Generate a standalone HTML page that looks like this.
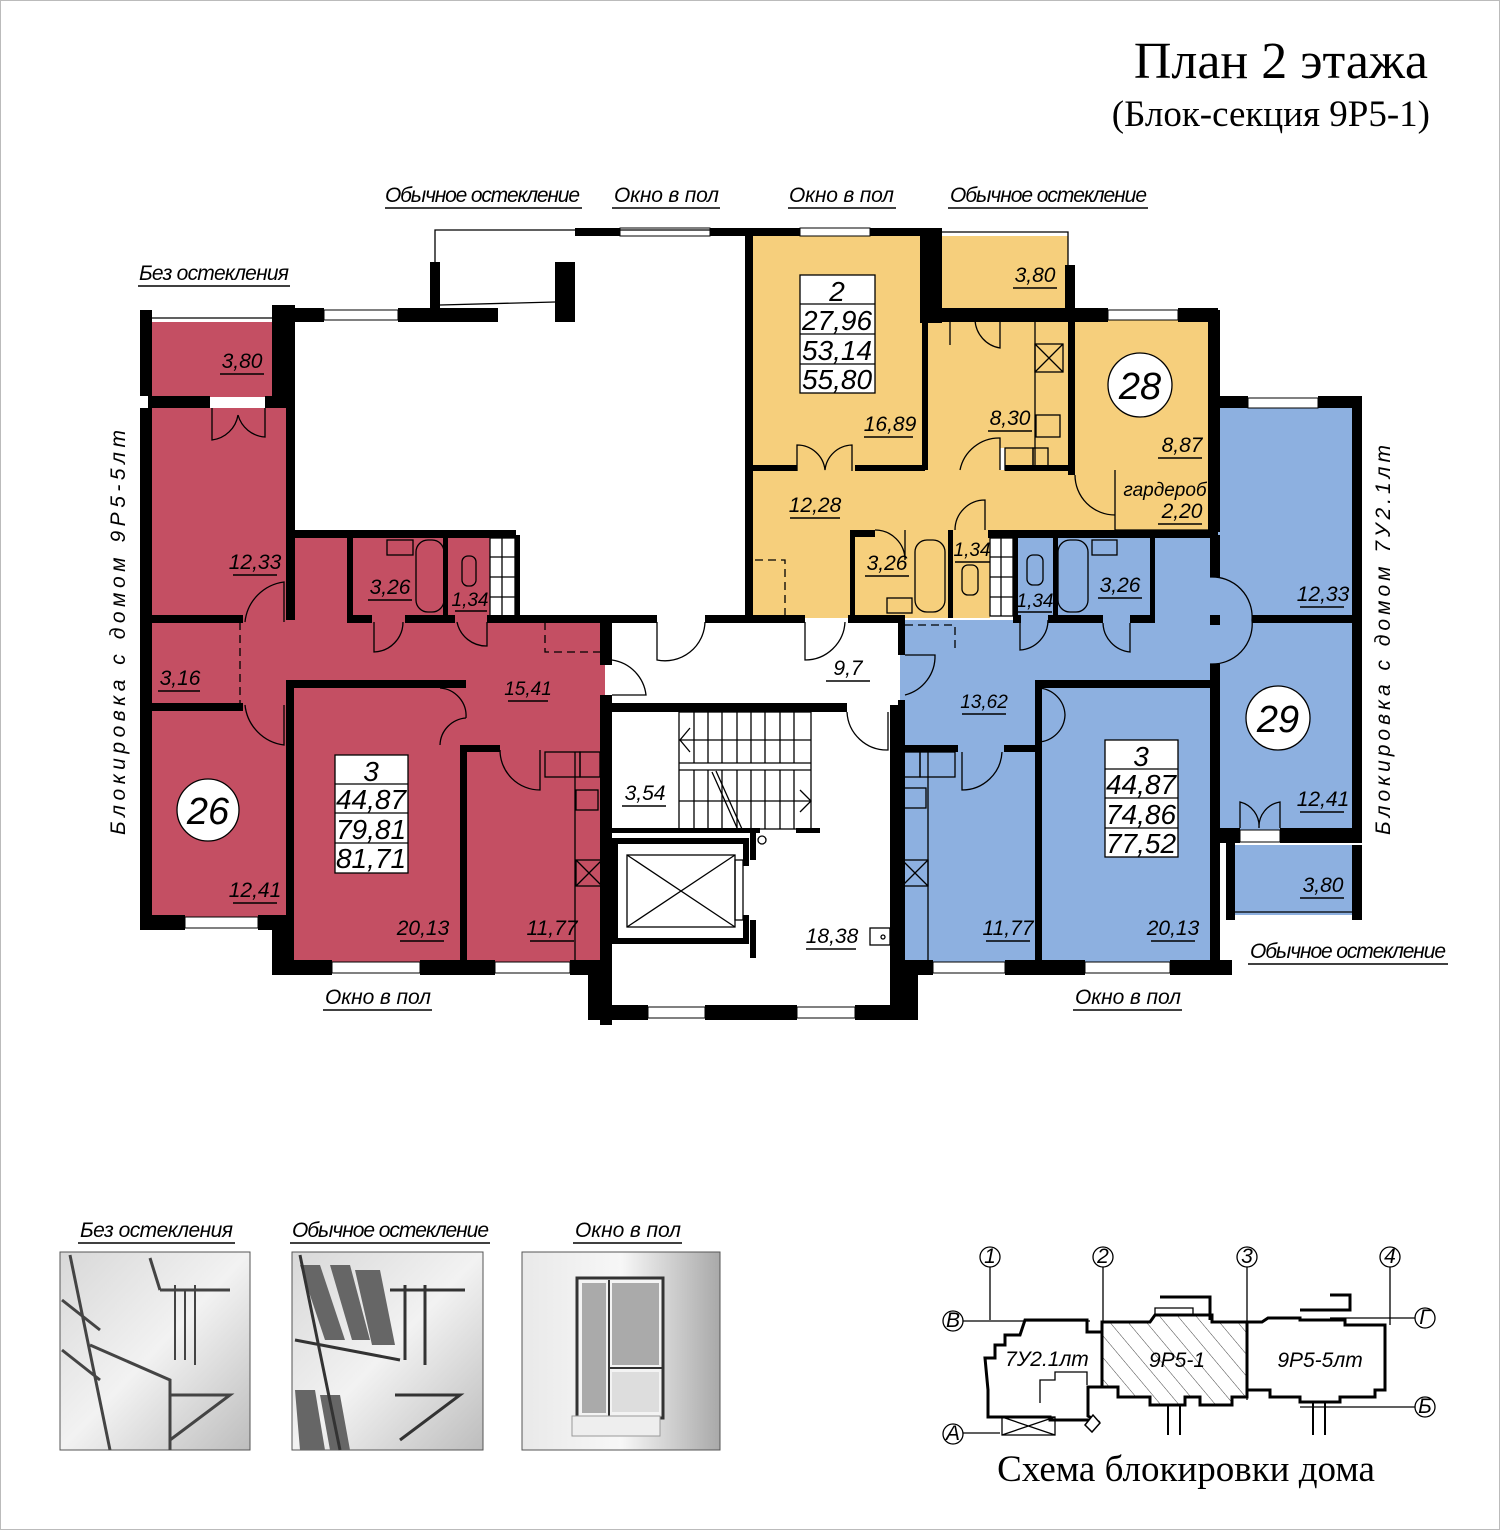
<!DOCTYPE html>
<html><head><meta charset="utf-8"><style>
html,body{margin:0;padding:0;background:#fff}
svg{display:block}
.t{font-family:"Liberation Sans",sans-serif;font-style:italic;font-size:21px;fill:#000}
.s{font-family:"Liberation Serif",serif;fill:#000}
.b{font-family:"Liberation Sans",sans-serif;font-style:italic;font-size:28px;fill:#000}
.ln{stroke:#000;stroke-width:1.5}
.th{fill:none;stroke:#000;stroke-width:1.3}
</style></head><body>
<svg width="1500" height="1530" viewBox="0 0 1500 1530" xmlns="http://www.w3.org/2000/svg">
<rect x="0.5" y="0.5" width="1499" height="1529" fill="#fff" stroke="#bbb"/>
<text class="s" x="1428" y="78" font-size="52" text-anchor="end">План 2 этажа</text>
<text class="s" x="1430" y="126" font-size="37" text-anchor="end">(Блок-секция 9Р5-1)</text>

<!-- fills -->
<g fill="#c44f63">
<rect x="150" y="322" width="124" height="75"/>
<rect x="150" y="408" width="140" height="520"/>
<rect x="240" y="535" width="275" height="150"/>
<rect x="240" y="620" width="365" height="65"/>
<rect x="290" y="685" width="315" height="278"/>
</g>
<g fill="#f6cf7c">
<rect x="752" y="235" width="170" height="235"/>
<rect x="940" y="236" width="128" height="76"/>
<rect x="926" y="320" width="284" height="152"/>
<rect x="1070" y="320" width="140" height="210"/>
<rect x="752" y="468" width="460" height="150"/>
</g>
<g fill="#8db0e0">
<rect x="1218" y="408" width="136" height="422"/>
<rect x="1233" y="845" width="120" height="70"/>
<rect x="1013" y="535" width="205" height="90"/>
<rect x="900" y="620" width="318" height="65"/>
<rect x="900" y="685" width="315" height="278"/>
</g>
<!-- white overlays inside -->
<g fill="#fff">
<rect x="490" y="538" width="25" height="80"/>
<rect x="990" y="538" width="25" height="80"/>
<rect x="1000" y="448" width="5" height="22"/>
</g>

<!-- walls -->
<g fill="#000">
<rect x="140" y="310" width="12" height="86"/>
<rect x="140" y="408" width="12" height="522"/>
<rect x="148" y="396" width="62" height="12"/>
<rect x="265" y="396" width="28" height="12"/>
<rect x="272" y="305" width="22" height="96"/>
<rect x="286" y="305" width="9" height="315"/>
<rect x="294" y="308" width="30" height="14"/>
<rect x="398" y="308" width="100" height="14"/>
<rect x="286" y="530" width="230" height="8"/>
<rect x="148" y="615" width="95" height="8"/>
<rect x="148" y="703" width="95" height="8"/>
<rect x="140" y="915" width="45" height="15"/>
<rect x="258" y="915" width="35" height="15"/>
<rect x="272" y="915" width="20" height="60"/>
<rect x="272" y="960" width="60" height="15"/>
<rect x="420" y="960" width="75" height="15"/>
<rect x="570" y="960" width="42" height="15"/>
<rect x="286" y="680" width="8" height="285"/>
<rect x="286" y="680" width="180" height="8"/>
<rect x="460" y="745" width="7" height="220"/>
<rect x="460" y="745" width="40" height="7"/>
<rect x="347" y="535" width="6" height="85"/>
<rect x="347" y="615" width="25" height="8"/>
<rect x="405" y="615" width="50" height="8"/>
<rect x="487" y="615" width="118" height="8"/>
<rect x="443" y="535" width="5" height="85"/>
<rect x="515" y="535" width="5" height="85"/>
<rect x="430" y="262" width="10" height="46"/>
<rect x="555" y="262" width="20" height="60"/>
<rect x="575" y="228" width="45" height="8"/>
<rect x="710" y="228" width="232" height="8"/>
<rect x="745" y="228" width="8" height="388"/>
<rect x="600" y="615" width="12" height="50"/>
<rect x="600" y="695" width="12" height="330"/>
<rect x="612" y="615" width="45" height="8"/>
<rect x="705" y="615" width="100" height="8"/>
<rect x="848" y="615" width="55" height="8"/>
<rect x="612" y="703" width="235" height="9"/>
<rect x="588" y="960" width="24" height="60"/>
<rect x="588" y="1005" width="60" height="15"/>
<rect x="705" y="1005" width="92" height="15"/>
<rect x="855" y="1005" width="60" height="15"/>
<rect x="890" y="705" width="12" height="315"/>
<rect x="898" y="960" width="20" height="60"/>
<rect x="612" y="838" width="137" height="6"/>
<rect x="612" y="938" width="137" height="6"/>
<rect x="612" y="838" width="6" height="106"/>
<rect x="743" y="838" width="6" height="28"/>
<rect x="743" y="915" width="6" height="28"/>
<rect x="750" y="830" width="6" height="30"/>
<rect x="750" y="920" width="6" height="38"/>
<rect x="612" y="828" width="148" height="5"/>
<rect x="796" y="828" width="24" height="5"/>
<rect x="920" y="228" width="22" height="95"/>
<rect x="1065" y="265" width="10" height="57"/>
<rect x="928" y="308" width="180" height="14"/>
<rect x="1178" y="308" width="40" height="14"/>
<rect x="922" y="320" width="6" height="150"/>
<rect x="752" y="465" width="45" height="6"/>
<rect x="855" y="465" width="70" height="6"/>
<rect x="1068" y="320" width="7" height="155"/>
<rect x="1005" y="465" width="70" height="6"/>
<rect x="1208" y="310" width="12" height="222"/>
<rect x="850" y="530" width="25" height="7"/>
<rect x="850" y="530" width="5" height="88"/>
<rect x="948" y="530" width="5" height="88"/>
<rect x="988" y="530" width="230" height="8"/>
<rect x="1208" y="396" width="40" height="12"/>
<rect x="1318" y="396" width="44" height="12"/>
<rect x="1352" y="400" width="10" height="440"/>
<rect x="1352" y="845" width="10" height="75"/>
<rect x="1210" y="535" width="10" height="42"/>
<rect x="1210" y="615" width="10" height="10"/>
<rect x="1252" y="615" width="103" height="8"/>
<rect x="1210" y="664" width="10" height="311"/>
<rect x="1215" y="828" width="25" height="15"/>
<rect x="1280" y="828" width="82" height="15"/>
<rect x="1226" y="840" width="9" height="80"/>
<rect x="898" y="615" width="7" height="40"/>
<rect x="898" y="700" width="7" height="275"/>
<rect x="898" y="960" width="35" height="15"/>
<rect x="1005" y="960" width="80" height="15"/>
<rect x="1170" y="960" width="62" height="15"/>
<rect x="1035" y="680" width="180" height="8"/>
<rect x="1035" y="680" width="7" height="285"/>
<rect x="898" y="745" width="60" height="7"/>
<rect x="1004" y="745" width="36" height="7"/>
<rect x="1013" y="535" width="5" height="85"/>
<rect x="1053" y="535" width="5" height="85"/>
<rect x="1013" y="615" width="8" height="8"/>
<rect x="1048" y="615" width="55" height="8"/>
<rect x="1130" y="615" width="25" height="8"/>
<rect x="1150" y="535" width="5" height="85"/>
</g>

<g fill="#fff" stroke="#000" stroke-width="1">
<rect x="324" y="310" width="74" height="10"/>
<rect x="620" y="228" width="90" height="8"/>
<rect x="800" y="228" width="70" height="8"/>
<rect x="1108" y="310" width="70" height="10"/>
<rect x="1248" y="398" width="70" height="10"/>
<rect x="185" y="917" width="73" height="11"/>
<rect x="332" y="962" width="88" height="11"/>
<rect x="495" y="962" width="75" height="11"/>
<rect x="648" y="1007" width="57" height="11"/>
<rect x="797" y="1007" width="58" height="11"/>
<rect x="933" y="962" width="72" height="11"/>
<rect x="1085" y="962" width="85" height="11"/>
<rect x="1240" y="830" width="40" height="12"/>
</g>
<g class="th">
<path d="M152 318 H272"/>
<path d="M435 262 V230 H748"/>
<path d="M440 305 L555 302"/>
<path d="M942 232 H1068 V265"/>
<path d="M1235 912 H1352"/>
<path d="M290 322 V530"/>
</g>

<g class="th">
<path d="M212 408 V440 A30 30 0 0 0 238 415"/><path d="M265 408 V437 A30 30 0 0 1 238 415"/>
<path d="M245 622 A45 45 0 0 1 284 582 V622"/>
<path d="M245 705 A45 45 0 0 0 284 745 V705"/>
<path d="M374 622 V652 A30 30 0 0 0 403 622"/>
<path d="M487 622 V646 A30 30 0 0 1 457 622"/>
<path d="M440 688 A28 28 0 0 1 466 718 M466 718 A28 28 0 0 0 440 745"/>
<path d="M500 750 A40 40 0 0 0 540 790 V750"/>
<path d="M240 622 V705" stroke-dasharray="8 5"/>
<path d="M545 622 V652 H600" stroke-dasharray="8 5"/>
<path d="M657 622 V660 A40 40 0 0 0 705 622"/>
<path d="M805 622 V660 A40 40 0 0 0 845 622"/>
<path d="M612 660 A40 40 0 0 1 646 695 H612"/>
<path d="M847 712 A40 40 0 0 0 888 750 V712"/>
<path d="M797 471 V445 A28 28 0 0 1 825 470 A28 28 0 0 1 852 445 V471"/>
<path d="M960 470 A40 40 0 0 1 1000 438 V470"/>
<path d="M950 320 V345 M1000 320 V348 A30 30 0 0 1 975 320"/>
<path d="M1075 475 A40 40 0 0 0 1115 515"/>
<path d="M875 530 A30 30 0 0 1 905 560 V530"/>
<path d="M955 530 A30 30 0 0 1 985 500 V530"/>
<path d="M755 560 H785 V615" stroke-dasharray="8 5"/>
<path d="M1115 470 V530 H1210 V470"/>
<path d="M905 655 H935 A40 40 0 0 1 905 695"/>
<path d="M905 625 H955 V650" stroke-dasharray="8 5"/>
<path d="M1020 623 V650 A30 30 0 0 0 1048 620"/>
<path d="M1103 623 A30 30 0 0 0 1130 652 V623"/>
<path d="M1210 577 A40 40 0 0 1 1252 620 A40 40 0 0 1 1210 664"/>
<path d="M1038 688 A28 28 0 0 1 1065 715 A28 28 0 0 1 1038 742"/>
<path d="M962 752 V790 A40 40 0 0 0 1002 752"/>
<path d="M1240 828 V802 A25 25 0 0 1 1259 828 A25 25 0 0 1 1280 802 V828"/>
</g>

<g class="th">
<rect x="679" y="712" width="132" height="117"/>
<path d="M679 763 H811 M679 770 H811 M679 740 H811 M679 801 H811"/>
<path d="M694 712V763 M708 712V763 M722 712V763 M737 712V763 M751 712V763 M765 712V763 M780 712V763 M794 712V763"/>
<path d="M694 770V829 M708 770V829 M722 770V829 M737 770V829 M751 770V829 M765 770V829 M780 770V829 M794 770V829"/>
<path d="M690 728 L680 740 L690 752 M800 790 L811 801 L800 812"/>
<path d="M712 772 L738 830 M716 771 L742 829"/>
<rect x="627" y="855" width="108" height="72"/>
<path d="M627 855 L735 927 M735 855 L627 927"/>
<rect x="735" y="860" width="8" height="60"/>
<circle cx="762" cy="840" r="4"/>
<rect x="870" y="928" width="20" height="17"/><circle cx="883" cy="937" r="2"/>
</g>

<g class="th" fill="#fff">
<rect x="416" y="540" width="28" height="72" rx="12" fill="none"/>
<rect x="387" y="540" width="26" height="15" fill="none"/>
<rect x="462" y="556" width="14" height="30" rx="6" fill="none"/>
<rect x="915" y="540" width="30" height="72" rx="12" fill="none"/>
<rect x="887" y="598" width="25" height="15" fill="none"/>
<rect x="962" y="565" width="16" height="30" rx="6" fill="none"/>
<rect x="1058" y="540" width="30" height="72" rx="12" fill="none"/>
<rect x="1092" y="540" width="25" height="15" fill="none"/>
<rect x="1027" y="555" width="16" height="30" rx="6" fill="none"/>
<rect x="1035" y="344" width="28" height="28"/>
<path d="M1035 344 L1063 372 M1063 344 L1035 372" />
<rect x="1036" y="415" width="24" height="22" fill="none"/>
<rect x="1005" y="448" width="28" height="22"/><rect x="1033" y="448" width="15" height="22"/>
<rect x="545" y="752" width="35" height="25"/><rect x="580" y="752" width="20" height="25"/>
<rect x="576" y="790" width="22" height="20" fill="none"/>
<rect x="576" y="860" width="26" height="26"/><path d="M576 860 L602 886 M602 860 L576 886"/>
<rect x="920" y="752" width="35" height="25"/><rect x="903" y="752" width="17" height="25"/>
<rect x="904" y="788" width="22" height="20" fill="none"/>
<rect x="902" y="860" width="26" height="26"/><path d="M902 860 L928 886 M928 860 L902 886"/>
<rect x="490" y="538" width="25" height="78"/><path d="M490 557H515 M490 577H515 M490 597H515 M502 538V616"/>
<rect x="990" y="538" width="23" height="78"/><path d="M990 557H1013 M990 577H1013 M990 597H1013 M1001 538V616"/>
</g>
<path d="M1035 320 V470 M575 752 V960 M928 752 V960" class="th"/>

<g fill="#fff" stroke="#000" stroke-width="1.3">
<rect x="335" y="755" width="73" height="118"/><path d="M335 784H408 M335 813H408 M335 843H408"/>
<rect x="800" y="275" width="75" height="118"/><path d="M800 304H875 M800 334H875 M800 364H875"/>
<rect x="1105" y="740" width="73" height="117"/><path d="M1105 769H1178 M1105 798H1178 M1105 828H1178"/>
<circle cx="208" cy="810" r="31"/><circle cx="1140" cy="385" r="32"/><circle cx="1278" cy="718" r="32"/>
</g>
<g class="b" text-anchor="middle">
<text x="371" y="781">3</text><text x="371" y="809">44,87</text><text x="371" y="839">79,81</text><text x="371" y="868">81,71</text>
<text x="837" y="301">2</text><text x="837" y="330">27,96</text><text x="837" y="360">53,14</text><text x="837" y="389">55,80</text>
<text x="1141" y="766">3</text><text x="1141" y="794">44,87</text><text x="1141" y="824">74,86</text><text x="1141" y="853">77,52</text>
<text x="208" y="824" font-size="38">26</text><text x="1140" y="399" font-size="38">28</text><text x="1278" y="732" font-size="38">29</text>
</g>

<g class="t" text-anchor="middle">
<text x="242" y="368">3,80</text><text x="255" y="569">12,33</text><text x="390" y="594">3,26</text><text x="470" y="606" font-size="19">1,34</text>
<text x="180" y="685">3,16</text><text x="528" y="695" font-size="19">15,41</text><text x="255" y="897">12,41</text>
<text x="423" y="935">20,13</text><text x="552" y="935">11,77</text>
<text x="890" y="431">16,89</text><text x="1035" y="282">3,80</text><text x="1010" y="425">8,30</text><text x="1182" y="452">8,87</text>
<text x="1165" y="496" font-size="19">гардероб</text><text x="1182" y="518">2,20</text><text x="815" y="512">12,28</text>
<text x="887" y="570">3,26</text><text x="972" y="556" font-size="19">1,34</text>
<text x="848" y="675">9,7</text><text x="645" y="800">3,54</text><text x="832" y="943">18,38</text>
<text x="1035" y="607" font-size="19">1,34</text><text x="1120" y="592">3,26</text><text x="1323" y="601">12,33</text>
<text x="984" y="708" font-size="19">13,62</text><text x="1323" y="806">12,41</text><text x="1323" y="892">3,80</text>
<text x="1008" y="935">11,77</text><text x="1173" y="935">20,13</text>
</g>
<g class="ln">
<path d="M220 374H264 M233 575H277 M368 600H412 M455 611H487 M158 691H200 M508 701H548 M233 903H277 M400 941H444 M530 941H574"/>
<path d="M864 437H913 M1013 288H1057 M988 431H1032 M1158 458H1202 M1158 524H1202 M790 518H840 M865 576H909 M955 562H990"/>
<path d="M826 681H870 M622 806H666 M806 949H856 M1018 612H1052 M1098 598H1142 M1300 607H1344 M962 714H1006 M1300 812H1344 M1300 898H1344 M986 941H1030 M1151 941H1195"/>
</g>

<g class="t" font-size="20">
<text x="385" y="202" textLength="195">Обычное остекление</text>
<text x="614" y="202" textLength="105">Окно в пол</text>
<text x="789" y="202" textLength="105">Окно в пол</text>
<text x="950" y="202" textLength="197">Обычное остекление</text>
<text x="139" y="280" textLength="150">Без остекления</text>
<text x="1250" y="958" textLength="196">Обычное остекление</text>
<text x="325" y="1004" textLength="106">Окно в пол</text>
<text x="1075" y="1004" textLength="106">Окно в пол</text>
<text x="80" y="1237" textLength="153">Без остекления</text>
<text x="292" y="1237" textLength="197">Обычное остекление</text>
<text x="575" y="1237" textLength="106">Окно в пол</text>
</g>
<g class="ln">
<path d="M385 208H582 M612 208H720 M788 208H896 M948 208H1148 M138 286H290 M1248 964H1448 M323 1010H432 M1073 1010H1182 M78 1243H235 M290 1243H490 M573 1243H682"/>
</g>
<text class="t" font-size="24" transform="translate(125 835) rotate(-90)" textLength="405">Блокировка с домом 9Р5-5лт</text>
<text class="t" font-size="24" transform="translate(1390 835) rotate(-90)" textLength="390">Блокировка с домом 7У2.1лт</text>

<defs>
<linearGradient id="g1" x1="0" y1="0" x2="1" y2="1"><stop offset="0" stop-color="#d8d8d8"/><stop offset=".5" stop-color="#f2f2f2"/><stop offset="1" stop-color="#bdbdbd"/></linearGradient>
<linearGradient id="g2" x1="0" y1="0" x2="1" y2="0"><stop offset="0" stop-color="#e9e9e9"/><stop offset=".5" stop-color="#f7f7f7"/><stop offset="1" stop-color="#a9a9a9"/></linearGradient>
<pattern id="hat" width="14" height="14" patternUnits="userSpaceOnUse" patternTransform="rotate(-40)"><rect width="14" height="14" fill="#fff"/><path d="M0 0 V14" stroke="#444" stroke-width="1"/></pattern>
</defs>
<rect x="60" y="1252" width="190" height="198" fill="url(#g1)" stroke="#555"/>
<g stroke="#444" stroke-width="3" fill="none">
<path d="M70 1255 L110 1450 M62 1300 L100 1330 M62 1350 L100 1380 M90 1345 L170 1380 L170 1450 M170 1395 L230 1395 L170 1440 M160 1290 L230 1290 M150 1258 L160 1290"/>
<path d="M175 1285 V1360 M195 1285 V1365 M185 1290 V1360" stroke-width="2"/>
</g>
<rect x="292" y="1252" width="191" height="198" fill="url(#g1)" stroke="#555"/>
<g fill="#666"><path d="M300 1265 L320 1265 L345 1340 L325 1340Z M330 1265 L350 1265 L370 1340 L352 1340Z M355 1270 L380 1270 L395 1345 L372 1345Z M295 1390 L315 1390 L325 1450 L300 1450Z M320 1395 L340 1395 L350 1450 L330 1450Z"/></g>
<g stroke="#333" stroke-width="3" fill="none"><path d="M300 1255 L340 1450 M295 1340 L400 1360 M390 1290 L465 1290 M395 1395 L460 1395 L400 1440 M405 1285 V1360 M425 1285 V1365"/></g>
<rect x="522" y="1252" width="198" height="198" fill="url(#g2)" stroke="#555"/>
<rect x="577" y="1278" width="86" height="140" fill="#f3f3f3" stroke="#333" stroke-width="3"/>
<rect x="582" y="1283" width="24" height="130" fill="#aaa"/><rect x="612" y="1283" width="47" height="82" fill="#aaa"/><rect x="612" y="1372" width="47" height="40" fill="#ddd"/>
<path d="M609 1280 V1416 M610 1368 H662" stroke="#333" stroke-width="2"/>
<rect x="572" y="1416" width="88" height="20" fill="#eee" stroke="#999"/>

<g fill="none" stroke="#000" stroke-width="1.3">
<circle cx="990" cy="1257" r="10"/><circle cx="1103" cy="1257" r="10"/><circle cx="1247" cy="1257" r="10"/><circle cx="1390" cy="1257" r="10"/>
<circle cx="953" cy="1321" r="10"/><circle cx="1425" cy="1318" r="10"/><circle cx="1425" cy="1407" r="10"/><circle cx="953" cy="1434" r="10"/>
<path d="M990 1267 V1320 M1103 1267 V1325 M1247 1267 V1400 M1390 1267 V1325 M963 1321 H1090 M1330 1318 H1415 M1300 1407 H1415 M963 1433 H1000"/>
<rect x="1002" y="1417" width="53" height="18"/><path d="M1002 1417 L1055 1435 M1055 1417 L1002 1435"/>
<path d="M1040 1403 V1380 H1055 V1372 H1087 V1385"/>
<path d="M1155 1308 H1193 V1350 H1155Z"/>
</g>
<path d="M1102 1322 H1150 L1155 1315 H1212 V1322 H1247 V1397 H1232 V1405 H1200 V1397 H1185 V1405 H1150 V1397 H1118 V1387 H1102Z" fill="url(#hat)" stroke="#000" stroke-width="3"/>
<path d="M1025 1320 H1087 V1332 H1102 V1387 H1088 V1416 L1095 1420 H1050 V1417 H988 V1390 L985 1358 H995 V1345 H1005 V1335 H1020 Z" fill="none" stroke="#000" stroke-width="3"/>
<path d="M1247 1322 H1262 L1268 1318 H1300 V1320 H1345 V1325 H1385 V1390 H1375 V1397 H1340 V1402 H1300 V1397 H1270 V1390 H1247" fill="none" stroke="#000" stroke-width="3"/>
<path d="M1160 1297 H1210 V1320 M1300 1310 H1350 V1295 H1330" fill="none" stroke="#000" stroke-width="3"/>
<path d="M1168 1405 V1435 M1180 1405 V1435 M1313 1402 V1435 M1325 1402 V1435" stroke="#000" stroke-width="2"/>
<path d="M1085 1425 L1093 1415 L1100 1423 L1092 1432Z" fill="#fff" stroke="#000" stroke-width="1.5"/>
<g class="t" font-size="16" text-anchor="middle"><text x="1047" y="1366">7У2.1лт</text><text x="1177" y="1367">9Р5-1</text><text x="1320" y="1367">9Р5-5лт</text></g>
<g class="t" font-size="16" text-anchor="middle"><text x="990" y="1263">1</text><text x="1103" y="1263">2</text><text x="1247" y="1263">3</text><text x="1390" y="1263">4</text><text x="953" y="1327">В</text><text x="1425" y="1324">Г</text><text x="1425" y="1413">Б</text><text x="953" y="1440">А</text></g>
<text class="s" x="1186" y="1481" font-size="37" text-anchor="middle">Схема блокировки дома</text>
</svg>
</body></html>
